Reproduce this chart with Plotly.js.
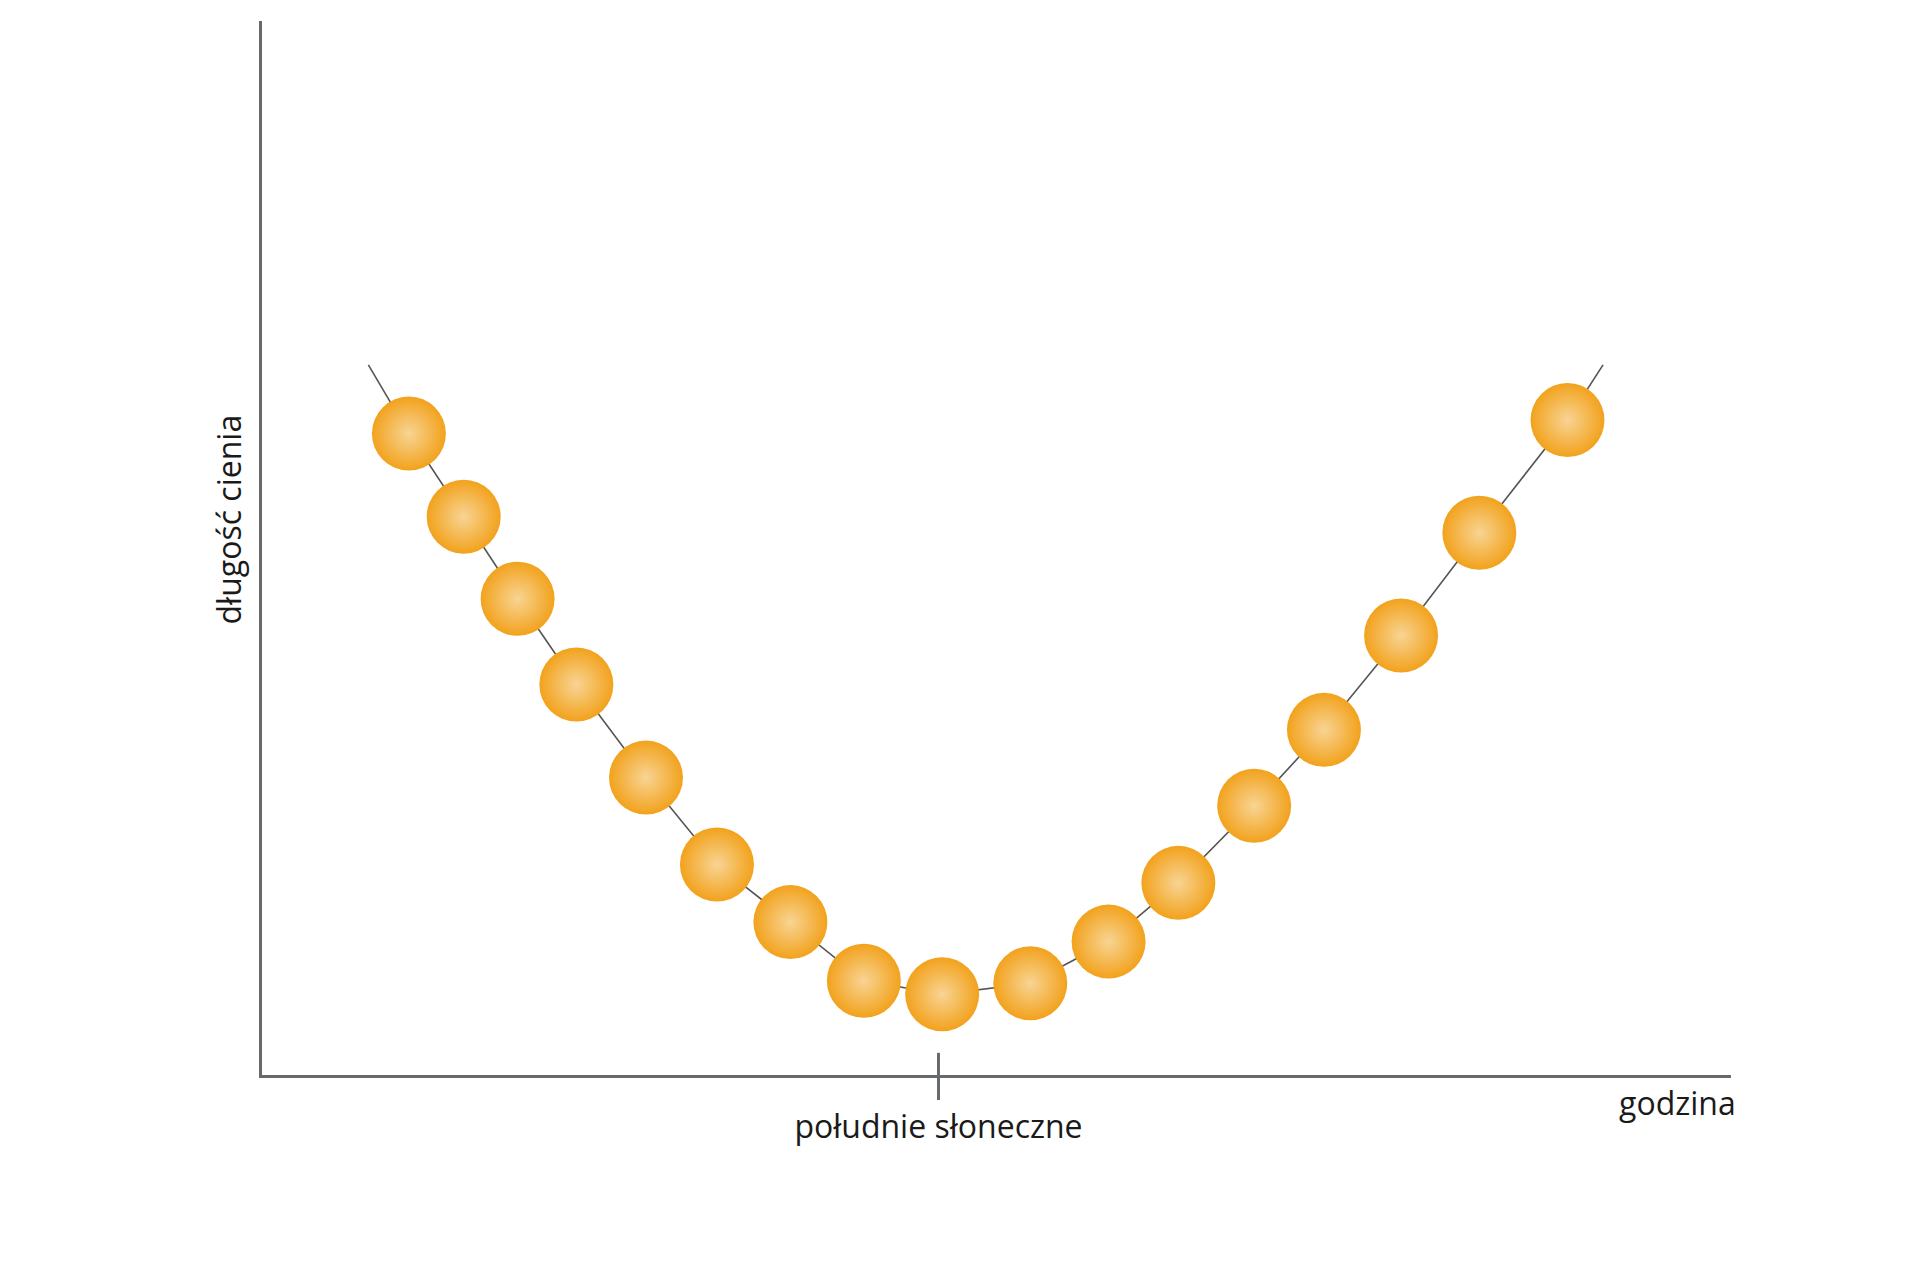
<!DOCTYPE html>
<html>
<head>
<meta charset="utf-8">
<script src="https://cdn.plot.ly/plotly-3.0.1.min.js"></script>
<style>html,body{margin:0;padding:0;background:#fff;}#chart{width:1920px;height:1280px;}</style>
</head>
<body>
<div id="chart"></div>
<script>
// Time of day (arbitrary units, 0-100 along the axis) and shadow length (0-100)
const markerTime   = [10.0, 13.73, 17.40, 21.40, 26.14, 30.97, 35.97, 40.97, 46.30, 52.30, 57.63, 62.38, 67.54, 72.29, 77.54, 82.87, 88.87];
const shadowLength = [60.86, 52.97, 45.18, 37.05, 28.22, 19.97, 14.51, 8.94, 7.66, 8.70, 12.66, 18.23, 25.55, 32.75, 41.70, 51.45, 62.14];
// Curve end points (line extends slightly beyond the first and last markers)
const curveStartTime = 7.24, curveStartLength = 67.37;
const curveEndTime = 91.29, curveEndLength = 67.37;
// Axis labels
const noonTime = 46.05;
const noonLabel = 'południe słoneczne';
const xAxisLabel = 'godzina';
const yAxisLabel = 'długość cienia';

const lineX = [curveStartTime].concat(markerTime, [curveEndTime]);
const lineY = [curveStartLength].concat(shadowLength, [curveEndLength]);

const axisColor = '#666a6d';
const textFont = {family: 'Open Sans, sans-serif', size: 32, color: '#1a1a1a'};

const traces = [
  {
    x: lineX, y: lineY, mode: 'lines', type: 'scatter',
    line: {color: '#555555', width: 1.6},
    hoverinfo: 'skip', showlegend: false
  },
  {
    x: markerTime, y: shadowLength, mode: 'markers', type: 'scatter',
    marker: {
      size: 74, color: '#f2a21c',
      gradient: {type: 'radial', color: '#f8d494'},
      line: {width: 0}
    },
    showlegend: false
  }
];

const layout = {
  width: 1920, height: 1280,
  paper_bgcolor: '#ffffff', plot_bgcolor: '#ffffff',
  margin: {l: 262, r: 189, t: 21, b: 205},
  showlegend: false,
  xaxis: {
    range: [0, 100], showgrid: false, zeroline: false,
    showline: true, linecolor: axisColor, linewidth: 3,
    tickvals: [noonTime], ticktext: [noonLabel],
    ticks: 'outside', ticklen: 22, tickwidth: 3, tickcolor: axisColor,
    tickfont: textFont, ticklabelstandoff: 0
  },
  yaxis: {
    range: [0, 100], showgrid: false, zeroline: false,
    showline: true, linecolor: axisColor, linewidth: 3,
    showticklabels: false, ticks: ''
  },
  shapes: [
    {type: 'line', xref: 'x', yref: 'paper', x0: noonTime, x1: noonTime, y0: 0, y1: 0.021,
     line: {color: axisColor, width: 3}}
  ],
  annotations: [
    {text: xAxisLabel, xref: 'paper', yref: 'paper', x: 1.0047, y: -0.026,
     xanchor: 'right', yanchor: 'middle', showarrow: false, font: textFont},
    {text: yAxisLabel, xref: 'paper', yref: 'paper', x: -0.0225, y: 0.527,
     xanchor: 'center', yanchor: 'middle', textangle: -90, showarrow: false, font: textFont}
  ]
};

Plotly.newPlot('chart', traces, layout, {displayModeBar: false, staticPlot: true});
</script>
</body>
</html>
